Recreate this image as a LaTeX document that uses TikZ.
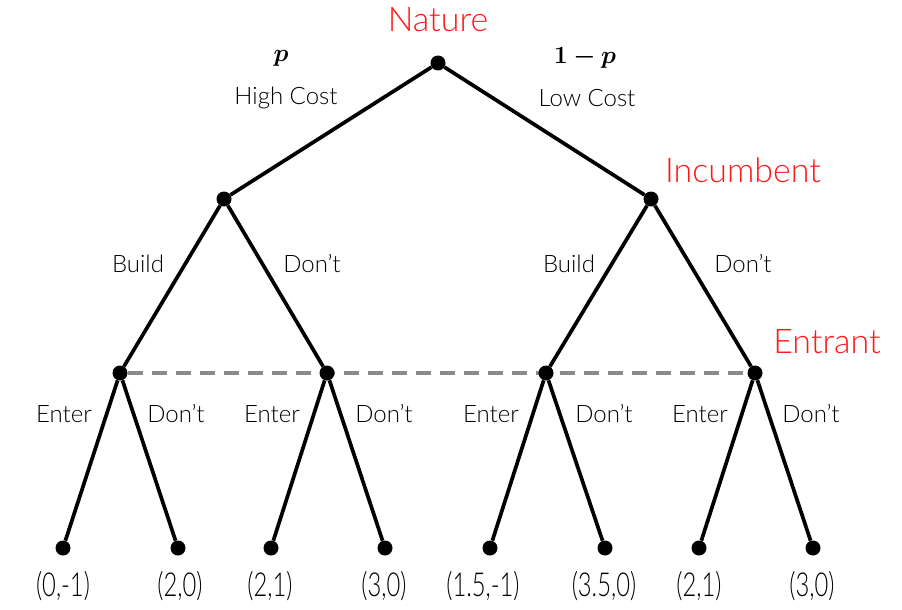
\documentclass[tikz,border=0pt]{standalone}
\usepackage{amsmath}
\usepackage{bm}
\usepackage{fontspec}
\setmainfont{Lato}[UprightFont=* Light]
\usetikzlibrary{positioning, backgrounds}
\definecolor{player}{HTML}{FF1A1A}
\definecolor{infoset}{HTML}{8A8A8A}

\begin{document}
\begin{tikzpicture}[x=1pt, y=-1pt,
  dot/.style={circle, fill=black, inner sep=0pt, minimum size=15pt},
  branch/.style={line width=3.7pt},
  lbl/.style={font=\fontsize{24}{28}\selectfont},
  who/.style={text=player, font=\fontsize{34}{38}\selectfont},
  pay/.style={font=\fontsize{33}{37}\selectfont, xscale=0.72}]
  \useasboundingbox (0,0) rectangle (902,610);
  % Decision nodes
  \node[dot] (nat) at (438,63) {};
  \node[dot] (incL) at (224,199) {};
  \node[dot] (incR) at (651,199) {};
  \foreach \n/\x in {A/120, B/327, C/546, D/755}
    \node[dot] (ent\n) at (\x,373) {};
  % Terminal nodes
  \foreach \i/\x in {1/63, 2/178, 3/271, 4/385, 5/490, 6/605, 7/699, 8/813}
    \node[dot] (t\i) at (\x,548) {};
  % Information set
  \begin{scope}[on background layer]
    \draw[infoset, line width=3.6pt, dash pattern=on 15pt off 9pt] (entA) -- (entD);
  \end{scope}
  % Branches
  \draw[branch] (nat) -- (incL);
  \draw[branch] (nat) -- (incR);
  \draw[branch] (incL) -- (entA);
  \draw[branch] (incL) -- (entB);
  \draw[branch] (incR) -- (entC);
  \draw[branch] (incR) -- (entD);
  \foreach \n/\a/\b in {A/1/2, B/3/4, C/5/6, D/7/8} {
    \draw[branch] (ent\n) -- (t\a);
    \draw[branch] (ent\n) -- (t\b);
  }
  % Players
  \node[who] (natlbl) at (438,20) {Nature};
  \node[who] (inclbl) at (743,170) {Incumbent};
  \node[who] (entlbl) at (827,342) {Entrant};
  % Nature's move
  \node[font=\fontsize{29}{33}\selectfont] (pl) at (281,58) {$\bm{p}$};
  \node[font=\fontsize{29}{33}\selectfont] (pr) at (585,58) {$\bm{1-p}$};
  \node[lbl] (hc) at (286,98) {High Cost};
  \node[lbl] (lc) at (587,98) {Low Cost};
  % Incumbent's move
  \foreach \x/\t in {138/Build, 312/Don't, 569/Build, 743/Don't}
    \node[lbl] at (\x,264) {\t};
  % Entrant's move
  \foreach \x/\t in {64/Enter, 176/Don't, 272/Enter, 384/Don't,
                     491/Enter, 604/Don't, 700/Enter, 811/Don't}
    \node[lbl] at (\x,414) {\t};
  % Payoffs
  \foreach \i/\x/\t in {1/63/{(0,-1)}, 2/180/{(2,0)}, 3/270/{(2,1)}, 4/384/{(3,0)},
                        5/483/{(1.5,-1)}, 6/604/{(3.5,0)}, 7/699/{(2,1)}, 8/812/{(3,0)}}
    \node[pay] (u\i) at (\x,586) {\t};
\end{tikzpicture}
\end{document}
